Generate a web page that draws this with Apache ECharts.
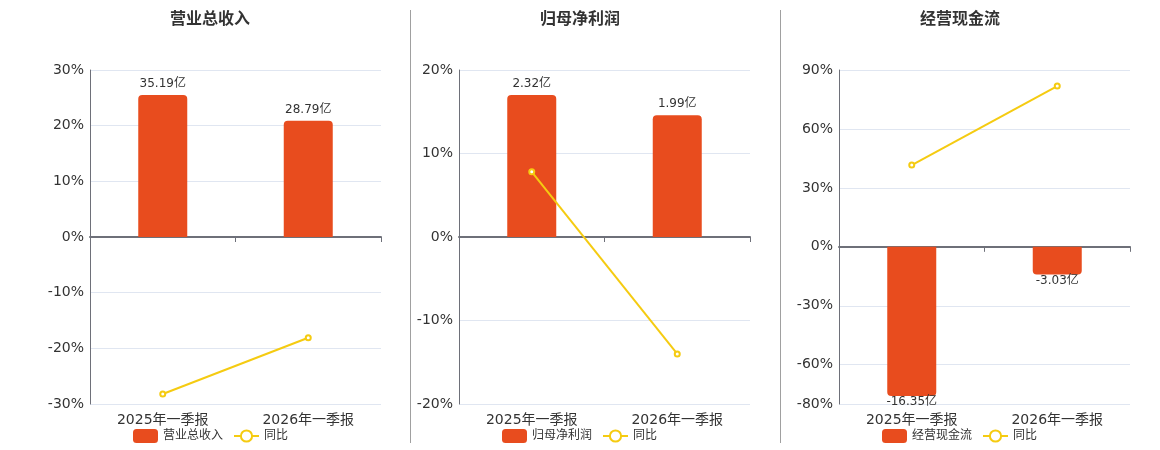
<!DOCTYPE html>
<html><head><meta charset="utf-8">
<script src="https://cdn.jsdelivr.net/npm/echarts@6/dist/echarts.min.js"></script>
<style>html,body{margin:0;padding:0;background:#fff}#c{width:1160px;height:450px}</style>
</head><body><div id="c"></div>
<script>
const categories = ['2025年一季报', '2026年一季报'];
const titles = ['营业总收入', '归母净利润', '经营现金流'];
const revenue = [35.19, 28.79];
const revenueYoY = [-28.2, -18.1];
const profit = [2.32, 1.99];
const profitYoY = [7.8, -14.0];
const cashflow = [-16.35, -3.03];
const cashflowYoY = [41.6, 81.8];
const yoyName = '同比';
const ticks1 = [-30, -20, -10, 0, 10, 20, 30];
const ticks2 = [-20, -10, 0, 10, 20];
const ticks3 = [-80, -60, -30, 0, 30, 60, 90];

const FONT = "'DejaVu Sans','Noto Sans CJK SC',sans-serif";
const BAR = '#E84C1E', LINE = '#F5CB11';
const panels = [
  {bars: revenue, line: revenueYoY, ticks: ticks1, left: 90, center: 210, legendLeft: 133, bmin: -41.4, bmax: 41.4},
  {bars: profit, line: profitYoY, ticks: ticks2, left: 459, center: 580, legendLeft: 502, bmin: -2.73, bmax: 2.73},
  {bars: cashflow, line: cashflowYoY, ticks: ticks3, left: 839, center: 960, legendLeft: 882, bmin: -17.23, bmax: 19.38}
];

const option = {animation: false, textStyle: {fontFamily: FONT}, title: [], legend: [], grid: [], xAxis: [], yAxis: [], series: [],
  graphic: [
    {type: 'line', shape: {x1: 410.5, y1: 10, x2: 410.5, y2: 443}, style: {stroke: '#a0a0a0', lineWidth: 1}},
    {type: 'line', shape: {x1: 780.5, y1: 10, x2: 780.5, y2: 443}, style: {stroke: '#a0a0a0', lineWidth: 1}}
  ]};

panels.forEach((p, i) => {
  option.title.push({text: titles[i], left: p.center, top: 12, textAlign: 'center', padding: 0,
    textStyle: {fontSize: 16, fontWeight: 'bold', color: '#333', fontFamily: FONT}});
  option.legend.push({data: [titles[i], yoyName], left: p.legendLeft, top: 429, itemWidth: 25, itemHeight: 14, itemGap: 10, padding: 0,
    textStyle: {fontSize: 12, color: '#333', fontFamily: FONT}});
  option.grid.push({left: p.left, width: 291, top: 70, height: 334, containLabel: false});
  const xi = option.xAxis.length;
  const yi = option.yAxis.length;
  option.xAxis.push({type: 'category', data: categories, gridIndex: i, position: 'bottom',
    axisLine: {show: true, onZero: true, onZeroAxisIndex: yi, lineStyle: {color: '#6e7079', width: 2}},
    axisTick: {show: true, length: 5, lineStyle: {color: '#6e7079'}}, axisLabel: {show: false}, splitLine: {show: false}});
  option.xAxis.push({type: 'category', data: categories, gridIndex: i, position: 'bottom',
    axisLine: {show: false, onZero: false}, axisTick: {show: false},
    axisLabel: {show: true, fontSize: 14, color: '#333', margin: 9, fontFamily: FONT}, splitLine: {show: false}});
  option.yAxis.push({type: 'value', gridIndex: i, min: p.ticks[0], max: p.ticks[p.ticks.length - 1],
    axisLine: {show: true, lineStyle: {color: '#6e7079', width: 1}}, axisTick: {show: false, customValues: p.ticks},
    axisLabel: {fontSize: 14, color: '#333', margin: 6, formatter: '{value}%', fontFamily: FONT, customValues: p.ticks},
    splitLine: {show: true, lineStyle: {color: '#e0e6f1'}}});
  option.yAxis.push({type: 'value', gridIndex: i, min: p.bmin, max: p.bmax, show: false, splitLine: {show: false}});
  option.series.push({name: titles[i], type: 'bar', xAxisIndex: xi, yAxisIndex: yi + 1, barWidth: 49,
    data: p.bars.map(v => ({value: v, itemStyle: {borderRadius: v >= 0 ? [4, 4, 0, 0] : [0, 0, 4, 4]},
      label: {position: v >= 0 ? 'top' : 'bottom', distance: v >= 0 ? 5 : 0}})),
    itemStyle: {color: BAR},
    label: {show: true, color: '#333', fontSize: 12, fontFamily: FONT, formatter: d => d.value.toFixed(2) + '亿'}});
  option.series.push({name: yoyName, type: 'line', xAxisIndex: xi, yAxisIndex: yi, data: p.line,
    symbol: 'emptyCircle', symbolSize: 5, itemStyle: {color: LINE}, lineStyle: {color: LINE, width: 2}, z: 5});
});

const chart = echarts.init(document.getElementById('c'));
chart.setOption(option);
</script></body></html>
